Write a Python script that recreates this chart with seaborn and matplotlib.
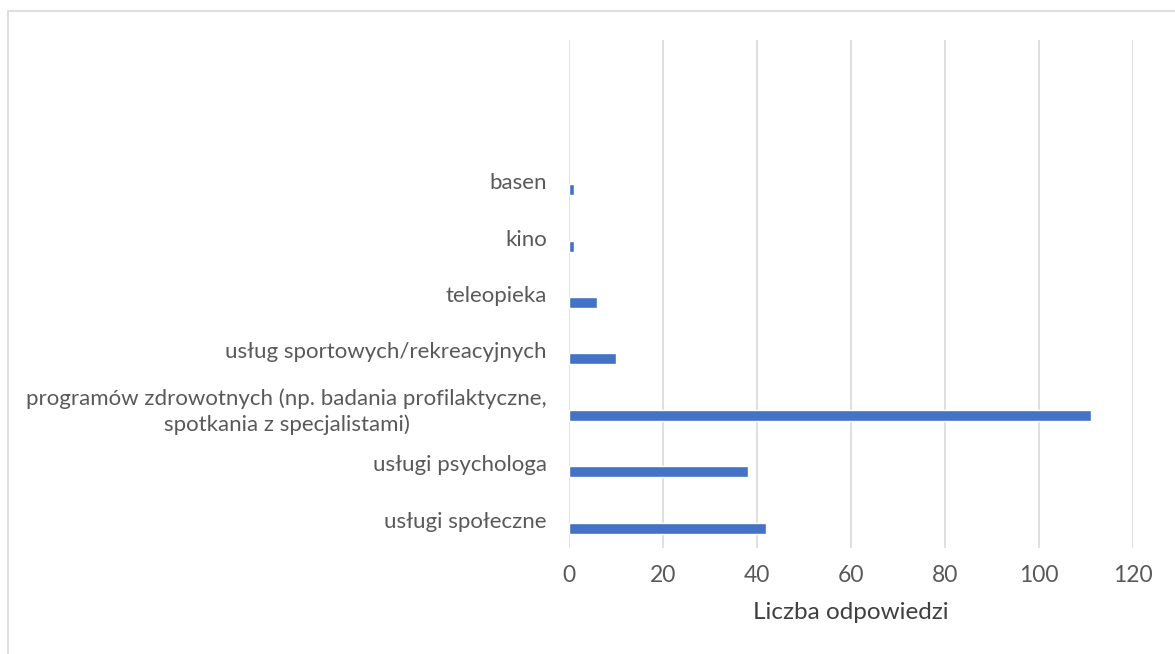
import numpy as np
import pandas as pd
import matplotlib
matplotlib.use("Agg")
import matplotlib.pyplot as plt
import seaborn as sns
from matplotlib.patches import Rectangle

# Data (top to bottom as shown)
categories = [
    "basen",
    "kino",
    "teleopieka",
    "usług sportowych/rekreacyjnych",
    "programów zdrowotnych (np. badania profilaktyczne,\nspotkania z specjalistami)",
    "usługi psychologa",
    "usługi społeczne",
]
values = [1, 1, 6, 10, 111, 38, 42]
x_ticks = [0, 20, 40, 60, 80, 100, 120]
x_label = "Liczba odpowiedzi"

# two empty category slots sit above "basen" in the original
n_empty = 2
positions = np.arange(len(categories)) + n_empty
bar_offset = 0.15

df = pd.DataFrame({"kategoria": categories, "liczba": values,
                   "pos": positions + bar_offset})

sns.set_theme(style="white")
plt.rcParams["font.family"] = ["Lato", "DejaVu Sans"]

fig = plt.figure(figsize=(11.75, 6.54), dpi=100)
ax = fig.add_axes([0.4843, 0.162, 0.48, 0.7768])

text_color = "#595959"
grid_color = "#d9d9d9"

sns.barplot(data=df, x="liczba", y="pos", orient="h", native_scale=True,
            width=0.195, color="#4472C4", saturation=1, ax=ax, zorder=3)

ax.set_xlim(0, 120)
ax.set_ylim(len(categories) + n_empty - 0.5, -0.5)
ax.set_xticks(x_ticks)
ax.set_xticklabels([str(t) for t in x_ticks], fontsize=16.5, color=text_color)
ax.set_yticks(positions)
ax.set_yticklabels(categories, fontsize=16, color=text_color,
                   multialignment="center", linespacing=1.35)
ax.tick_params(axis="y", length=0, pad=16)
ax.tick_params(axis="x", length=0, pad=12)

ax.xaxis.grid(True, color=grid_color, linewidth=1.2, zorder=0)
ax.yaxis.grid(False)
for s in ax.spines.values():
    s.set_visible(False)

ax.set_xlabel(x_label, fontsize=17.5, color="#404040", labelpad=12)
ax.set_ylabel("")

# light frame around the chart area
fig.patches.append(Rectangle((8 / 1175, -0.01), 1.0, 1 - 11 / 654 + 0.01,
                             transform=fig.transFigure, fill=False,
                             edgecolor=grid_color, linewidth=1.2))

fig.savefig("out.png", dpi=100)
